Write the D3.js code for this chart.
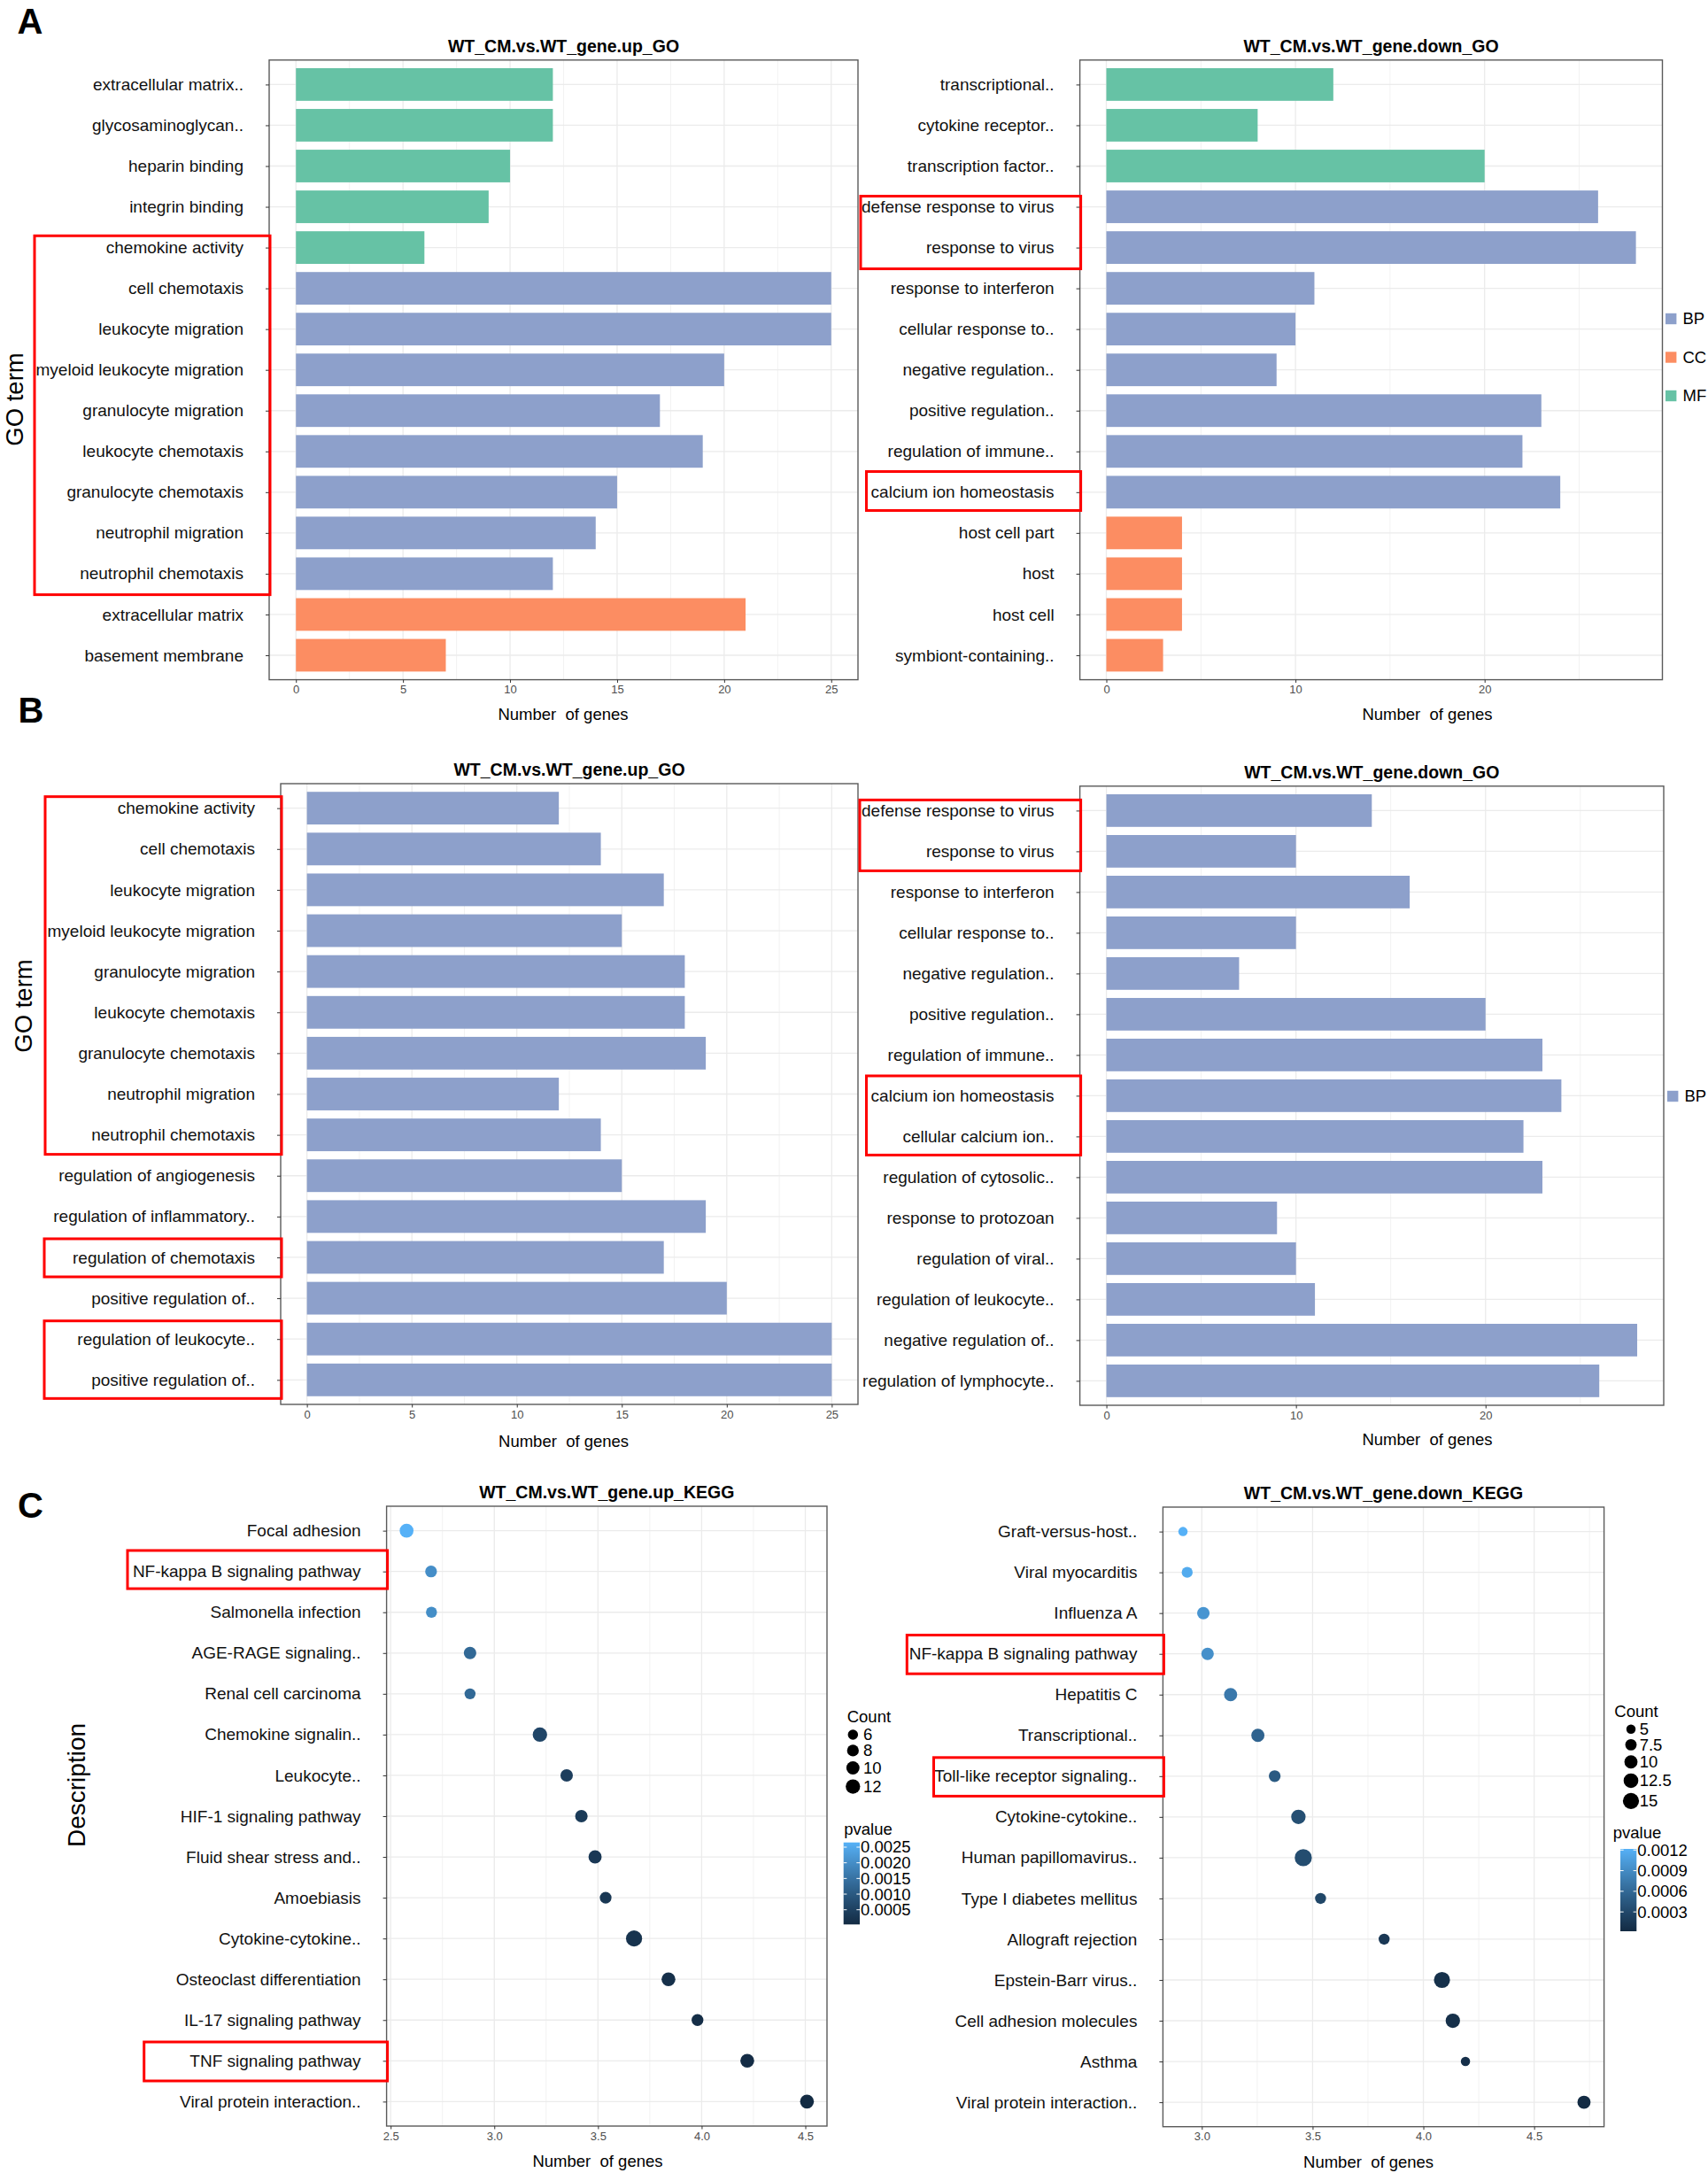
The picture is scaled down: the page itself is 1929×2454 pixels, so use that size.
<!DOCTYPE html>
<html>
<head>
<meta charset="utf-8">
<script src="https://cdn.jsdelivr.net/npm/d3@7"></script>
<style>
  body { margin: 0; background: #fff; }
  svg { display: block; }
</style>
</head>
<body>
<svg id="fig" width="1929" height="2454"></svg>
<script>
// ---------------- DATA ----------------
// Panel A: GO enrichment (up / down)
const goUpA_terms = ["extracellular matrix..","glycosaminoglycan..","heparin binding","integrin binding","chemokine activity","cell chemotaxis","leukocyte migration","myeloid leukocyte migration","granulocyte migration","leukocyte chemotaxis","granulocyte chemotaxis","neutrophil migration","neutrophil chemotaxis","extracellular matrix","basement membrane"];
const goUpA_genes = [12,12,10,9,6,25,25,20,17,19,15,14,12,21,7];
const goUpA_ont   = ["MF","MF","MF","MF","MF","BP","BP","BP","BP","BP","BP","BP","BP","CC","CC"];

const goDownA_terms = ["transcriptional..","cytokine receptor..","transcription factor..","defense response to virus","response to virus","response to interferon","cellular response to..","negative regulation..","positive regulation..","regulation of immune..","calcium ion homeostasis","host cell part","host","host cell","symbiont-containing.."];
const goDownA_genes = [12,8,20,26,28,11,10,9,23,22,24,4,4,4,3];
const goDownA_ont   = ["MF","MF","MF","BP","BP","BP","BP","BP","BP","BP","BP","CC","CC","CC","CC"];

// Panel B: GO BP only
const goUpB_terms = ["chemokine activity","cell chemotaxis","leukocyte migration","myeloid leukocyte migration","granulocyte migration","leukocyte chemotaxis","granulocyte chemotaxis","neutrophil migration","neutrophil chemotaxis","regulation of angiogenesis","regulation of inflammatory..","regulation of chemotaxis","positive regulation of..","regulation of leukocyte..","positive regulation of.."];
const goUpB_genes = [12,14,17,15,18,18,19,12,14,15,19,17,20,25,25];
const goUpB_ont   = goUpB_terms.map(() => "BP");

const goDownB_terms = ["defense response to virus","response to virus","response to interferon","cellular response to..","negative regulation..","positive regulation..","regulation of immune..","calcium ion homeostasis","cellular calcium ion..","regulation of cytosolic..","response to protozoan","regulation of viral..","regulation of leukocyte..","negative regulation of..","regulation of lymphocyte.."];
const goDownB_genes = [14,10,16,10,7,20,23,24,22,23,9,10,11,28,26];
const goDownB_ont   = goDownB_terms.map(() => "BP");

// Panel C: KEGG dot plots
const keggUp_terms = ["Focal adhesion","NF-kappa B signaling pathway","Salmonella infection","AGE-RAGE signaling..","Renal cell carcinoma","Chemokine signalin..","Leukocyte..","HIF-1 signaling pathway","Fluid shear stress and..","Amoebiasis","Cytokine-cytokine..","Osteoclast differentiation","IL-17 signaling pathway","TNF signaling pathway","Viral protein interaction.."];
const keggUp_x     = [2.577,2.695,2.697,2.883,2.883,3.220,3.349,3.420,3.486,3.537,3.674,3.840,3.980,4.220,4.508];
const keggUp_count = [11,8,7,9,7,12,9,9,10,8,15,11,8,11,11];
const keggUp_p     = [0.00265,0.00202,0.00201,0.00131,0.00131,0.000603,0.000448,0.000380,0.000327,0.000290,0.000212,0.000145,0.000105,0.0000603,0.0000310];

const keggDown_terms = ["Graft-versus-host..","Viral myocarditis","Influenza A","NF-kappa B signaling pathway","Hepatitis C","Transcriptional..","Toll-like receptor signaling..","Cytokine-cytokine..","Human papillomavirus..","Type I diabetes mellitus","Allograft rejection","Epstein-Barr virus..","Cell adhesion molecules","Asthma","Viral protein interaction.."];
const keggDown_x     = [2.915,2.934,3.007,3.026,3.130,3.253,3.329,3.436,3.458,3.536,3.823,4.084,4.133,4.190,4.725];
const keggDown_count = [5,7,9,9,10,10,8,12,17,7,7,15,12,5,10];
const keggDown_p     = [0.001216,0.001164,0.000984,0.000942,0.000741,0.000558,0.000469,0.000366,0.000348,0.000291,0.000150,0.0000824,0.0000736,0.0000646,0.0000188];

// Tick / legend labels
const ticksGO25 = [0,5,10,15,20,25];
const minorGO25 = [2.5,7.5,12.5,17.5,22.5];
const ticksGO28 = [0,10,20];
const minorGO28 = [5,15,25];
const ticksKeggUp = [2.5,3.0,3.5,4.0,4.5];
const minorKeggUp = [2.75,3.25,3.75,4.25];
const ticksKeggDown = [3.0,3.5,4.0,4.5];
const minorKeggDown = [3.25,3.75,4.25,4.75];
const countBreaksUp = [6,8,10,12];
const countBreaksDown = [5,7.5,10,12.5,15];
const pBreaksUp = [0.0025,0.0020,0.0015,0.0010,0.0005];
const pBreaksDown = [0.0012,0.0009,0.0006,0.0003];
const ontKeys = ["BP","CC","MF"];

// ---------------- STYLE ----------------
const FONT = '"Liberation Sans", Arial, Helvetica, sans-serif';
const typeColor = {BP:"#8DA0CB", CC:"#FC8D62", MF:"#66C2A5"};
const svg = d3.select("#fig");
svg.append("rect").attr("width",1929).attr("height",2454).attr("fill","#fff");

function txt(g, x, y, s, o = {}) {
  const t = g.append("text").attr("x", x).attr("y", y).text(s)
    .attr("font-family", o.family || FONT)
    .attr("font-size", o.size || 18)
    .attr("font-weight", o.weight || "normal")
    .attr("fill", o.fill || "#000")
    .attr("text-anchor", o.anchor || "start")
    .attr("dy", o.dy || "0.35em")
    .style("white-space", "pre");
  if (o.rotate) t.attr("transform", `rotate(${o.rotate},${x},${y})`);
  return t;
}

function frame(g, box, x, y, n, majors, minors) {
  g.append("rect").attr("x", box.x0).attr("y", box.y0)
    .attr("width", box.x1 - box.x0).attr("height", box.y1 - box.y0).attr("fill", "#fff");
  g.selectAll("line.minor").data(minors).join("line")
    .attr("x1", d => x(d)).attr("x2", d => x(d)).attr("y1", box.y0).attr("y2", box.y1)
    .attr("stroke", "#F2F2F2").attr("stroke-width", 1);
  g.selectAll("line.major").data(majors).join("line")
    .attr("x1", d => x(d)).attr("x2", d => x(d)).attr("y1", box.y0).attr("y2", box.y1)
    .attr("stroke", "#EBEBEB").attr("stroke-width", 1.3);
  g.selectAll("line.row").data(d3.range(n)).join("line")
    .attr("x1", box.x0).attr("x2", box.x1).attr("y1", d => y(d)).attr("y2", d => y(d))
    .attr("stroke", "#EBEBEB").attr("stroke-width", 1.3);
}

function axes(g, box, x, y, terms, majors, fmt) {
  g.append("rect").attr("x", box.x0).attr("y", box.y0)
    .attr("width", box.x1 - box.x0).attr("height", box.y1 - box.y0)
    .attr("fill", "none").attr("stroke", "#5a5a5a").attr("stroke-width", 1.4);
  g.append("g").attr("transform", `translate(${box.x0},0)`)
    .call(d3.axisLeft(y).tickSize(4).tickPadding(25).tickFormat(i => terms[i]))
    .call(a => a.select(".domain").remove())
    .call(a => a.selectAll("line").attr("stroke", "#333"))
    .call(a => a.selectAll("text").attr("font-size", 19).attr("font-family", FONT).attr("fill", "#111"));
  g.append("g").attr("transform", `translate(0,${box.y1})`)
    .call(d3.axisBottom(x).tickValues(majors).tickSize(3.5).tickPadding(3).tickFormat(fmt))
    .call(a => a.select(".domain").remove())
    .call(a => a.selectAll("line").attr("stroke", "#333"))
    .call(a => a.selectAll("text").attr("font-size", 13).attr("font-family", FONT).attr("fill", "#4d4d4d"));
}

function highlights(g, box, y, list) {
  list.forEach(h => {
    const t0 = y(h.rows[0]) - h.padTop, b0 = y(h.rows[1]) + h.padBot;
    g.append("rect").attr("x", h.left).attr("y", t0)
      .attr("width", box.x0 + 1 - h.left).attr("height", b0 - t0)
      .attr("fill", "none").attr("stroke", "#FF0000").attr("stroke-width", 3);
  });
}

function drawBars(cfg) {
  const g = svg.append("g");
  const {terms, genes, ont, box} = cfg;
  const max = d3.max(genes);
  const x = d3.scaleLinear().domain([-0.05 * max, 1.05 * max]).range([box.x0, box.x1]);
  const y = d3.scalePoint().domain(d3.range(terms.length)).range([box.y0, box.y1]).padding(0.6);
  const bw = y.step() * 0.8;
  frame(g, box, x, y, terms.length, cfg.majors, cfg.minors);
  g.selectAll("rect.bar").data(genes).join("rect").attr("class", "bar")
    .attr("x", x(0)).attr("y", (d, i) => y(i) - bw / 2)
    .attr("width", d => x(d) - x(0)).attr("height", bw)
    .attr("fill", (d, i) => typeColor[ont[i]]);
  axes(g, box, x, y, terms, cfg.majors, d3.format("d"));
  highlights(g, box, y, cfg.highlights);
  txt(g, (box.x0 + box.x1) / 2, box.y0 - 16, cfg.title, {size: 19.5, weight: "bold", anchor: "middle"});
  txt(g, cfg.xTitle[0], cfg.xTitle[1], "Number  of genes", {size: 18.5, anchor: "middle"});
  if (cfg.legend) {
    cfg.legend.keys.forEach((k, i) => {
      const cy = cfg.legend.y + i * cfg.legend.gap;
      g.append("rect").attr("x", cfg.legend.x).attr("y", cy - 6.2).attr("width", 12.4).attr("height", 12.4)
        .attr("fill", typeColor[k]);
      txt(g, cfg.legend.x + 19.5, cy, k, {size: 18.5});
    });
  }
}

function drawDots(cfg) {
  const g = svg.append("g");
  const {terms, xs, counts, ps, box} = cfg;
  const [mn, mx] = d3.extent(xs);
  const span = mx - mn;
  const x = d3.scaleLinear().domain([mn - 0.05 * span, mx + 0.05 * span]).range([box.x0, box.x1]);
  const y = d3.scalePoint().domain(d3.range(terms.length)).range([box.y0, box.y1]).padding(0.6);
  const r = d3.scaleSqrt().domain([0, 15]).range([0, 9.1]);
  const [pMin, pMax] = d3.extent(ps);
  const col = d3.scaleLinear().domain([pMin, pMax]).range(["#132B43", "#56B1F7"]).interpolate(d3.interpolateLab);
  frame(g, box, x, y, terms.length, cfg.majors, cfg.minors);
  g.selectAll("circle.pt").data(xs).join("circle").attr("class", "pt")
    .attr("cx", d => x(d)).attr("cy", (d, i) => y(i))
    .attr("r", (d, i) => r(counts[i])).attr("fill", (d, i) => col(ps[i]));
  axes(g, box, x, y, terms, cfg.majors, d3.format(".1f"));
  highlights(g, box, y, cfg.highlights);
  txt(g, (box.x0 + box.x1) / 2, box.y0 - 15.5, cfg.title, {size: 19.5, weight: "bold", anchor: "middle"});
  txt(g, cfg.xTitle[0], cfg.xTitle[1], "Number  of genes", {size: 18.5, anchor: "middle"});

  // size legend
  const L = cfg.legend;
  txt(g, L.countX, L.countY, "Count", {size: 18.5});
  let cy = L.keyY;
  L.counts.forEach((c, i) => {
    const h = Math.max(17, 2 * r(c) + 5.5);
    if (i > 0) {
      const hp = Math.max(17, 2 * r(L.counts[i - 1]) + 5.5);
      cy += (h + hp) / 2;
    }
    g.append("circle").attr("cx", L.keyX).attr("cy", cy).attr("r", r(c)).attr("fill", "#000");
    txt(g, L.keyLabelX, cy, String(c), {size: 18.5});
  });
  // colour bar
  txt(g, L.pX, L.pY, "pvalue", {size: 18.5});
  const gid = "grad" + cfg.id;
  const grad = svg.append("defs").append("linearGradient").attr("id", gid)
    .attr("x1", 0).attr("y1", 1).attr("x2", 0).attr("y2", 0);
  d3.range(0, 1.0001, 0.1).forEach(t => grad.append("stop")
    .attr("offset", t).attr("stop-color", col(pMin + t * (pMax - pMin))));
  const b = L.bar;
  g.append("rect").attr("x", b.x0).attr("y", b.y0).attr("width", b.x1 - b.x0).attr("height", b.y1 - b.y0)
    .attr("fill", `url(#${gid})`);
  const py = d3.scaleLinear().domain([pMin, pMax]).range([b.y1, b.y0]);
  const tw = (b.x1 - b.x0) / 5;
  L.pBreaks.forEach(v => {
    g.append("line").attr("x1", b.x0).attr("x2", b.x0 + tw).attr("y1", py(v)).attr("y2", py(v))
      .attr("stroke", "#fff").attr("stroke-width", 1);
    g.append("line").attr("x1", b.x1 - tw).attr("x2", b.x1).attr("y1", py(v)).attr("y2", py(v))
      .attr("stroke", "#fff").attr("stroke-width", 1);
    txt(g, b.x1 + 1, py(v), d3.format(".4f")(v), {size: 18.5});
  });
}

// ---------------- PANELS ----------------
drawBars({
  terms: goUpA_terms, genes: goUpA_genes, ont: goUpA_ont,
  box: {x0: 304, x1: 969, y0: 67.8, y1: 767.6},
  majors: ticksGO25, minors: minorGO25,
  title: "WT_CM.vs.WT_gene.up_GO", xTitle: [636, 807],
  highlights: [{rows: [4, 12], left: 39, padTop: 13.3, padBot: 23.7}]
});
drawBars({
  terms: goDownA_terms, genes: goDownA_genes, ont: goDownA_ont,
  box: {x0: 1219.6, x1: 1877.5, y0: 67.8, y1: 767.6},
  majors: ticksGO28, minors: minorGO28,
  title: "WT_CM.vs.WT_gene.down_GO", xTitle: [1612, 807],
  highlights: [{rows: [3, 4], left: 972, padTop: 12, padBot: 24},
               {rows: [10, 10], left: 978.5, padTop: 23.3, padBot: 20.7}],
  legend: {x: 1881, y: 360, gap: 43.5, keys: ontKeys}
});
drawBars({
  terms: goUpB_terms, genes: goUpB_genes, ont: goUpB_ont,
  box: {x0: 317, x1: 969, y0: 885, y1: 1586},
  majors: ticksGO25, minors: minorGO25,
  title: "WT_CM.vs.WT_gene.up_GO", xTitle: [636.6, 1627.6],
  highlights: [{rows: [0, 8], left: 51, padTop: 13, padBot: 22},
               {rows: [11, 11], left: 50, padTop: 21, padBot: 22},
               {rows: [13, 14], left: 50, padTop: 20.5, padBot: 21}]
});
drawBars({
  terms: goDownB_terms, genes: goDownB_genes, ont: goDownB_ont,
  box: {x0: 1219.6, x1: 1879, y0: 887.8, y1: 1587},
  majors: ticksGO28, minors: minorGO28,
  title: "WT_CM.vs.WT_gene.down_GO", xTitle: [1612, 1626],
  highlights: [{rows: [0, 1], left: 971, padTop: 12, padBot: 22},
               {rows: [7, 8], left: 978.5, padTop: 22.4, padBot: 21}],
  legend: {x: 1883, y: 1238, gap: 43.5, keys: ["BP"]}
});
drawDots({
  id: "up", terms: keggUp_terms, xs: keggUp_x, counts: keggUp_count, ps: keggUp_p,
  box: {x0: 436.6, x1: 934, y0: 1701, y1: 2401},
  majors: ticksKeggUp, minors: minorKeggUp,
  title: "WT_CM.vs.WT_gene.up_KEGG", xTitle: [675, 2441],
  highlights: [{rows: [1, 1], left: 144, padTop: 23.7, padBot: 19.4},
               {rows: [13, 13], left: 162.7, padTop: 21.3, padBot: 22.7}],
  legend: {countX: 956.7, countY: 1939, keyX: 963.3, keyY: 1959, keyLabelX: 975,
           counts: countBreaksUp, pX: 953.3, pY: 2065.7,
           bar: {x0: 952.7, x1: 971, y0: 2080.7, y1: 2173.3}, pBreaks: pBreaksUp}
});
drawDots({
  id: "down", terms: keggDown_terms, xs: keggDown_x, counts: keggDown_count, ps: keggDown_p,
  box: {x0: 1313.4, x1: 1811.6, y0: 1702, y1: 2401.7},
  majors: ticksKeggDown, minors: minorKeggDown,
  title: "WT_CM.vs.WT_gene.down_KEGG", xTitle: [1545.6, 2442],
  highlights: [{rows: [3, 3], left: 1024.3, padTop: 21.2, padBot: 22.5},
               {rows: [6, 6], left: 1054.5, padTop: 21, padBot: 22.6}],
  legend: {countX: 1823.3, countY: 1932.7, keyX: 1842, keyY: 1952.7, keyLabelX: 1851.7,
           counts: countBreaksDown, pX: 1821.7, pY: 2070,
           bar: {x0: 1830, x1: 1848.3, y0: 2088, y1: 2181}, pBreaks: pBreaksDown}
});

// ---------------- AXIS TITLES & PANEL LETTERS ----------------
const annot = svg.append("g");
txt(annot, 16, 451, "GO term", {size: 27.5, anchor: "middle", rotate: -90});
txt(annot, 26, 1136, "GO term", {size: 27.5, anchor: "middle", rotate: -90});
txt(annot, 86, 2016, "Description", {size: 28, anchor: "middle", rotate: -90});
const LET = '"Liberation Sans", Arial, sans-serif';
txt(annot, 34, 38, "A", {size: 40, weight: "bold", anchor: "middle", family: LET, dy: "0"});
txt(annot, 35, 816, "B", {size: 40, weight: "bold", anchor: "middle", family: LET, dy: "0"});
txt(annot, 34.5, 1714, "C", {size: 40, weight: "bold", anchor: "middle", family: LET, dy: "0"});
</script>
</body>
</html>
